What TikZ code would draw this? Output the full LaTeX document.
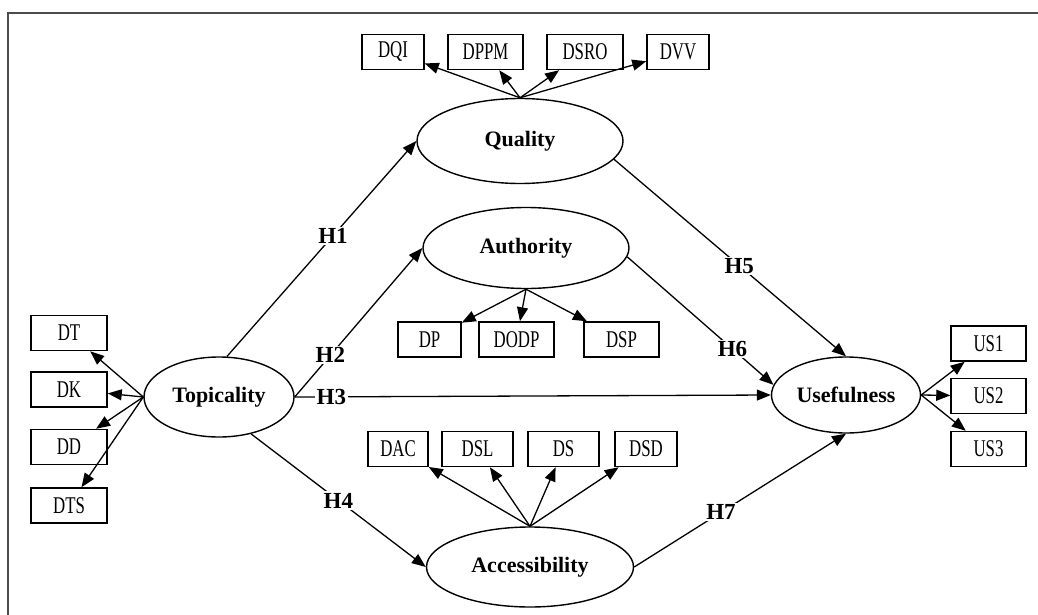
\documentclass[tikz,border=0pt]{standalone}
\usepackage{fontspec}
\setmainfont{Liberation Serif}
\newfontfamily\narrowfont[FakeStretch=0.7]{Liberation Serif}
\usetikzlibrary{arrows.meta, shapes.geometric}

\begin{document}
\begin{tikzpicture}[x = 1pt, y = -1pt,
		latent/.style = {draw, ellipse, line width = 1.4pt, inner sep = 0pt, font = \fontsize{22}{26}\selectfont\bfseries},
		item/.style = {draw, rectangle, line width = 1.5pt, minimum height = 35pt, inner sep = 0pt, font = \fontsize{24}{28}\selectfont\narrowfont},
		link/.style = {-{Triangle[length = 14pt, width = 11pt]}, line width = 1.3pt},
		hyp/.style = {fill = white, inner sep = 1.5pt, font = \fontsize{23}{27}\selectfont\bfseries}]
	\useasboundingbox (0,0) rectangle (1038,615);
	\draw[gray!60!black, line width = 2pt] (8,615) -- (8,13) -- (1038,13); %frame
	% latent variables
	\node[latent, minimum width = 206pt, minimum height = 85pt] (quality) at (520,141) {Quality};
	\node[latent, minimum width = 206pt, minimum height = 81pt] (authority) at (526,248) {Authority};
	\node[latent, minimum width = 150pt, minimum height = 80pt] (topic) at (219,397) {Topicality};
	\node[latent, minimum width = 149pt, minimum height = 76pt] (useful) at (846,395) {Usefulness};
	\node[latent, minimum width = 207pt, minimum height = 80pt] (access) at (530,567) {Accessibility};
	% indicators
	\node[item, minimum width = 62pt] (dqi) at (393,52) {DQI};
	\node[item, minimum width = 75pt] (dppm) at (485.5,52) {DPPM};
	\node[item, minimum width = 76pt] (dsro) at (585,52) {DSRO};
	\node[item, minimum width = 62pt] (dvv) at (678,52) {DVV};
	\node[item, minimum width = 63pt] (dp) at (429.5,339.5) {DP};
	\node[item, minimum width = 75pt] (dodp) at (516.5,339.5) {DODP};
	\node[item, minimum width = 75pt] (dsp) at (621.5,339.5) {DSP};
	\node[item, minimum width = 60pt] (dac) at (398,449) {DAC};
	\node[item, minimum width = 71pt] (dsl) at (477.5,449) {DSL};
	\node[item, minimum width = 71pt] (ds) at (563.5,449) {DS};
	\node[item, minimum width = 62pt] (dsd) at (646,449) {DSD};
	\node[item, minimum width = 76pt] (dt) at (69,333) {DT};
	\node[item, minimum width = 76pt] (dk) at (69,389.5) {DK};
	\node[item, minimum width = 76pt] (dd) at (69,447) {DD};
	\node[item, minimum width = 76pt] (dts) at (69,505.5) {DTS};
	\node[item, minimum width = 75pt] (us1) at (988.5,343.5) {US1};
	\node[item, minimum width = 75pt] (us2) at (988.5,396) {US2};
	\node[item, minimum width = 75pt] (us3) at (988.5,449) {US3};
	% measurement arrows
	\foreach \b in {dqi, dppm, dsro, dvv} \draw[link] (quality.north) -- (\b);
	\foreach \b in {dp, dodp, dsp} \draw[link] (authority.south) -- (\b);
	\foreach \b in {dac, dsl, ds, dsd} \draw[link] (access.north) -- (\b);
	\foreach \b in {dt, dk, dd, dts} \draw[link] (topic.west) -- (\b);
	\foreach \b in {us1, us2, us3} \draw[link] (useful.east) -- (\b);
	% hypotheses
	\draw[link] (topic.79) -- node[hyp, pos = .56] {H1} (quality.west);
	\draw[link] (topic.east) -- node[hyp, pos = .28] {H2} (authority.west);
	\draw[link] (topic.east) -- node[hyp, pos = .077] {H3} (useful.west);
	\draw[link] (topic.-49) -- node[hyp, pos = .5] {H4} (access.west);
	\draw[link] (quality.-11) -- node[hyp, pos = .54] {H5} (useful.north);
	\draw[link] (authority.-5) -- node[hyp, pos = .72] {H6} (useful.172);
	\draw[link] (access.east) -- node[hyp, pos = .41] {H7} (useful.south);
\end{tikzpicture}
\end{document}
